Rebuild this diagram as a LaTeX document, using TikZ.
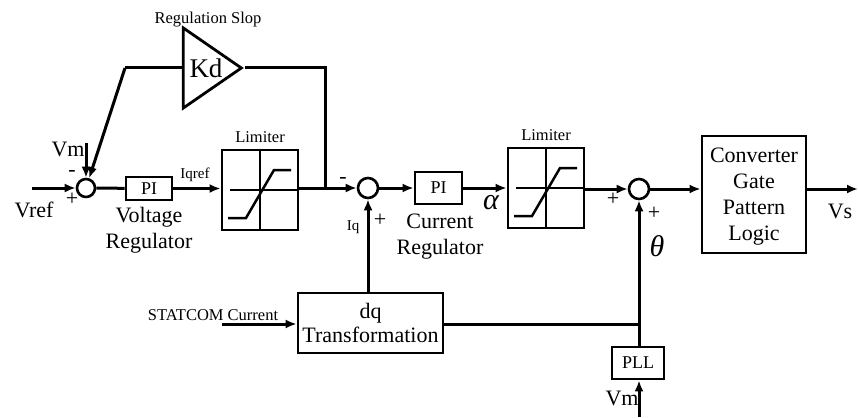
\documentclass[tikz,border=0pt]{standalone}
\usepackage{fontspec}
\setmainfont{Liberation Serif}
\usepackage{amsmath}
\usetikzlibrary{calc}
\usetikzlibrary{arrows.meta}
\usetikzlibrary{positioning}
\usetikzlibrary{shapes.geometric}
\tikzset{>=latex}
\newcommand{\bigtxt}{\fontsize{22}{27}\selectfont}
\newcommand{\midtxt}{\fontsize{18}{22}\selectfont}
\newcommand{\smalltxt}{\fontsize{16.5}{19}\selectfont}
\newcommand{\greektxt}{\fontsize{30}{32}\selectfont\itshape}
\tikzstyle{blk} = [draw, line width = 2.8pt, inner sep = 0, align = center]
\tikzstyle{sumnode} = [circle, draw, line width = 2.6pt, minimum size = 18pt, inner sep = 0]
\tikzstyle{wire} = [line width = 3pt]
\tikzstyle{sig} = [wire, -{Latex[length = 11pt, width = 9pt]}]
\tikzstyle{lim} = [blk, minimum width = 76pt, minimum height = 80pt]
\tikzstyle{inner} = [line width = 2.5pt]
\tikzstyle{sign} = [inner sep = 0]

\begin{document}
\begin{tikzpicture}[x = 1pt, y = -1pt]
\useasboundingbox (0,0) rectangle (858,417);
% blocks
\node [sumnode] (S1) at (86, 188) {};
\node [blk, minimum width = 46pt, minimum height = 23pt, font = \midtxt] (PI1) at (149, 188.5) {PI};
\node [lim] (L1) at (260, 190) {};
\node [sumnode, minimum size = 20pt] (S2) at (368, 188) {};
\node [blk, minimum width = 47pt, minimum height = 32pt, font = \midtxt] (PI2) at (438.5, 188) {PI};
\node [lim] (L2) at (546, 188) {};
\node [sumnode, minimum size = 20pt] (S3) at (639, 189) {};
\node [blk, minimum width = 104pt, minimum height = 117pt, font = \bigtxt, text depth = 0pt] (CG) at (754, 194.5) {Converter\\[-1pt]Gate\\[-1pt]Pattern\\[-1pt]Logic};
\node [blk, minimum width = 145pt, minimum height = 60pt, font = \bigtxt] (DQ) at (370.5, 323) {dq\\[-3pt]Transformation};
\node [blk, minimum width = 52pt, minimum height = 32pt, font = \midtxt] (PLL) at (638, 363) {PLL};
\node [isosceles triangle, isosceles triangle stretches, shape border rotate = 0, draw, line width = 2.8pt, inner sep = 0, minimum width = 80pt, minimum height = 58pt, anchor = apex] (Kd) at (245, 68) {};
\node [font = \fontsize{27}{30}\selectfont] (KdT) at (206, 68) {Kd};

% limiter curves
\foreach \lm in {L1, L2} {
  \draw [inner] ($(\lm.center) + (-30, 0)$) -- ($(\lm.center) + (37, 0)$);
  \draw [inner] (\lm.north) -- (\lm.south);
  \draw [inner] ($(\lm.center) + (-32, 28)$) -- ($(\lm.center) + (-14, 28)$) -- ($(\lm.center) + (14, -20)$) -- ($(\lm.center) + (31, -20)$);
}

% free ends
\coordinate (vin) at (32, 188);
\coordinate (vmin) at (86, 143);
\coordinate (kdl) at (125, 68);
\coordinate (tap) at (325, 188);
\coordinate (vout) at (858, 189);
\coordinate (sin) at (222, 324);
\coordinate (jt) at (639, 324);
\coordinate (vmb) at (639, 417);

% connectors
\draw [sig] (vin) -- (S1);
\draw [sig] (vmin) -- (S1);
\draw [wire] (tap) |- (Kd.apex);
\draw [wire] (Kd.lower side) -- (kdl);
\draw [sig] (kdl) -- (S1);
\draw [wire] (S1) -- (PI1);
\draw [sig] (PI1) -- (PI1 -| L1.west);
\draw [sig] (L1.east |- S2) -- (S2);
\draw [sig] (DQ.north -| S2) -- (S2);
\draw [sig] (S2) -- (PI2);
\draw [sig] (PI2) -- (PI2 -| L2.west);
\draw [sig] (L2.east |- S3) -- (S3);
\draw [sig] (S3) -- (S3 -| CG.west);
\draw [sig] (S3 -| CG.east) -- (vout);
\draw [sig] (sin) -- (sin -| DQ.west);
\draw [wire] (DQ.east |- jt) -- (jt);
\draw [sig] (PLL.north -| S3) -- (S3);
\draw [sig] (vmb) -- (vmb |- PLL.south);

% labels
\node [font = \smalltxt] (regT) at (208, 20) {Regulation Slop};
\node [font = \bigtxt] (vmT) at (68, 149) {Vm};
\node [sign, font = \bigtxt] (m1) at (72, 173) {-};
\node [sign, font = \bigtxt] (p1) at (72, 199) {+};
\node [font = \bigtxt] (vrefT) at (34, 210) {Vref};
\node [font = \fontsize{15}{17}\selectfont] (iqrefT) at (195, 175) {Iqref};
\node [font = \bigtxt, align = center, below = 2pt of PI1] (vregT) {Voltage\\[-1pt]Regulator};
\node [font = \smalltxt, above = 2pt of L1] (lim1T) {Limiter};
\node [font = \smalltxt, above = 2pt of L2] (lim2T) {Limiter};
\node [sign, font = \bigtxt] (m2) at (343, 180) {-};
\node [font = \fontsize{15}{17}\selectfont] (iqT) at (353, 227) {Iq};
\node [sign, font = \bigtxt] (p2) at (380, 220) {+};
\node [font = \bigtxt, align = center] (cregT) at (440, 237) {Current\\[-1pt]Regulator};
\node [font = \greektxt] (alphaT) at (491, 203) {α};
\node [sign, font = \bigtxt] (p3) at (613, 199) {+};
\node [sign, font = \bigtxt] (p4) at (654, 213) {+};
\node [font = \greektxt] (thetaT) at (657, 246) {θ};
\node [font = \bigtxt] (vsT) at (840, 211) {Vs};
\node [font = \smalltxt] (statT) at (213, 315) {STATCOM Current};
\node [font = \bigtxt] (vm2T) at (622, 398) {Vm};
\end{tikzpicture}
\end{document}
